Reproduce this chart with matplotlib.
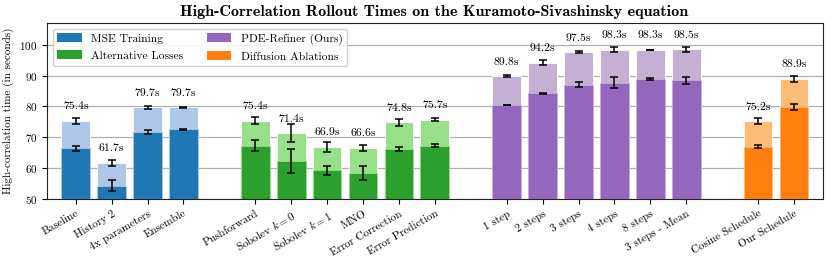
import numpy as np
import matplotlib
matplotlib.use("Agg")
import matplotlib.pyplot as plt
from matplotlib.patches import Patch

plt.rcParams.update({
    "font.family": "serif",
    "font.serif": ["cmr10"],
    "mathtext.fontset": "cm",
    "axes.formatter.use_mathtext": True,
    "axes.unicode_minus": False,
})

# groups of runs, a gap of one slot between groups
GROUP_NAMES = ["MSE Training", "Alternative Losses", "PDE-Refiner (Ours)", "Diffusion Ablations"]
GROUP_DARK = ["#1f77b4", "#2ca02c", "#9467bd", "#ff7f0e"]
GROUP_LIGHT = ["#aec7e8", "#98df8a", "#c5b0d5", "#ffbb78"]

LABELS = [
    ["Baseline", "History 2", "4x parameters", "Ensemble"],
    ["Pushforward", "Sobolev $k=0$", "Sobolev $k=1$", "MNO", "Error Correction", "Error Prediction"],
    ["1 step", "2 steps", "3 steps", "4 steps", "8 steps", "3 steps - Mean"],
    ["Cosine Schedule", "Our Schedule"],
]
# upper (light) bar: time at lower correlation threshold
UPPER = [
    [75.4, 61.7, 79.7, 79.7],
    [75.4, 71.4, 66.9, 66.6, 74.8, 75.7],
    [89.8, 94.2, 97.5, 98.3, 98.3, 98.5],
    [75.2, 88.9],
]
UPPER_ERR = [
    [1.0, 1.0, 0.5, 0.1],
    [1.1, 3.0, 1.7, 1.0, 1.0, 0.4],
    [0.3, 0.8, 0.3, 0.8, 0.1, 0.8],
    [1.0, 1.0],
]
# lower (dark) bar
LOWER = [
    [66.4, 54.3, 71.8, 72.6],
    [67.3, 62.2, 59.3, 58.5, 66.2, 67.2],
    [80.5, 84.2, 87.0, 87.7, 88.9, 88.5],
    [66.9, 79.8],
]
LOWER_ERR = [
    [0.8, 1.8, 0.6, 0.1],
    [1.7, 3.9, 1.5, 2.2, 0.8, 0.5],
    [0.1, 0.3, 0.8, 1.8, 0.3, 1.1],
    [0.5, 1.0],
]

fig = plt.figure(figsize=(8.31, 2.65), dpi=100)
ax = fig.add_axes([0.0566, 0.249, 0.9334, 0.664])

ticks, ticklabels = [], []
pos = 0
err_kw = dict(fmt="none", ecolor="black", elinewidth=1.1, capsize=3, capthick=1.1, zorder=4)
for g, name in enumerate(GROUP_NAMES):
    n = len(LABELS[g])
    x = pos + np.arange(n)
    ax.bar(x, UPPER[g], width=0.8, color=GROUP_LIGHT[g], edgecolor="white", linewidth=0.6, zorder=2)
    ax.bar(x, LOWER[g], width=0.8, color=GROUP_DARK[g], edgecolor=GROUP_LIGHT[g], linewidth=0.6, zorder=3)
    ax.errorbar(x, UPPER[g], yerr=UPPER_ERR[g], **err_kw)
    ax.errorbar(x, LOWER[g], yerr=LOWER_ERR[g], **err_kw)
    for xi, v in zip(x, UPPER[g]):
        ax.text(xi, v + 4.6, f"{v:.1f}s", ha="center", va="center", fontsize=8.5, zorder=5)
    ticks.extend(x)
    ticklabels.extend(LABELS[g])
    pos += n + 1

ax.set_xticks(ticks)
ax.set_xticklabels(ticklabels, rotation=30, ha="right", rotation_mode="anchor", fontsize=8)
ax.tick_params(axis="y", labelsize=8)
ax.set_xlim(-0.8, 20.8)
ax.set_ylim(50, 107)
ax.set_yticks([50, 60, 70, 80, 90, 100])
ax.yaxis.grid(True, color="#b0b0b0", linewidth=0.9, zorder=0)
ax.set_axisbelow(True)
ax.set_ylabel("High-correlation time (in seconds)", fontsize=8)
for s in ax.spines.values():
    s.set_color("#222222")

handles = [Patch(facecolor=c) for c in GROUP_DARK]
ax.legend(handles, GROUP_NAMES, loc="upper left", ncol=2, fontsize=8.3,
          handlelength=2.1, handleheight=0.8, handletextpad=0.8, columnspacing=2.1,
          labelspacing=0.55, borderaxespad=0.5, framealpha=0.9, edgecolor="#cccccc")

fig.text(0.523, 0.953, "High-Correlation Rollout Times on the Kuramoto-Sivashinsky equation",
         ha="center", va="center", fontsize=11.6, family="cmb10")

fig.savefig("out.png", dpi=100, facecolor="white")
